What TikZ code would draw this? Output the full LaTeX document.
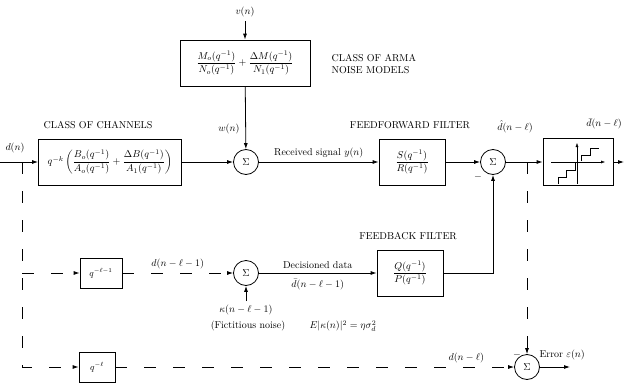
\documentclass[tikz,border=0pt]{standalone}
\usepackage{amsmath,amssymb}
\usepackage{tikz}
\usetikzlibrary{arrows.meta,positioning,calc}

\begin{document}
\begin{tikzpicture}[x=1pt,y=-1pt,
  block/.style={draw, thick, inner sep=2pt},
  sumnode/.style={draw, thick, circle, minimum size=25pt, inner sep=0pt},
  sig/.style={thick, -{Latex[length=6pt,width=4pt]}},
  dsig/.style={sig, dash pattern=on 12pt off 17pt}]
\useasboundingbox (0,0) rectangle (624,391);

% blocks
\node[block, minimum width=130pt, minimum height=46pt] (noise) at (245,63)
  {$\dfrac{M_o(q^{-1})}{N_o(q^{-1})}+\dfrac{\Delta M(q^{-1})}{N_1(q^{-1})}$};
\node[block, minimum width=143pt, minimum height=46pt] (chan) at (110,162)
  {$q^{-k}\left(\dfrac{B_o(q^{-1})}{A_o(q^{-1})}+\dfrac{\Delta B(q^{-1})}{A_1(q^{-1})}\right)$};
\node[block, minimum width=66pt, minimum height=46pt] (ff) at (412,162) {$\dfrac{S(q^{-1})}{R(q^{-1})}$};
\node[block, minimum width=66pt, minimum height=46pt] (fb) at (410,273) {$\dfrac{Q(q^{-1})}{P(q^{-1})}$};
\node[block, minimum width=70pt, minimum height=47pt] (quant) at (578,162) {};
\node[block, minimum width=42pt, minimum height=30pt, font=\small] (del1) at (101,273) {$q^{-\ell-1}$};
\node[block, minimum width=36pt, minimum height=30pt, font=\small] (del2) at (97,367) {$q^{-\ell}$};

% summing points
\node[sumnode] (s1) at (246,162) {$\Sigma$};
\node[sumnode] (s2) at (493,162) {$\Sigma$};
\node[sumnode] (s3) at (246,273) {$\Sigma$};
\node[sumnode] (s4) at (527,367) {$\Sigma$};

\coordinate (in) at (0,162);
\coordinate (br) at (22,162);
\coordinate (br1) at (22,273);
\coordinate (tap) at (527,162);
\coordinate (out) at (624,162);
\coordinate (vin) at (245,21);
\coordinate (kin) at (246,301);
\coordinate (eout) at (570,367);

% quantizer symbol
\begin{scope}[shift={(quant.center)}]
\draw[-{Latex[length=4pt,width=3pt]}] (-27,0) -- (27,0);
\draw[-{Latex[length=4pt,width=3pt]}] (-1,22) -- (-1,-19);
\draw[thick] (-20,22) -- (-20,15) -- (-12,15) -- (-12,8) -- (-3,8) -- (-3,1);
\draw[thick] (3,-1) -- (3,-7) -- (12,-7) -- (12,-14) -- (21,-14);
\end{scope}

% connections
\draw[sig] (in) -- (chan);
\draw[sig] (vin) -- (noise);
\draw[sig] (noise) -- (s1);
\draw[sig] (chan) -- (s1);
\draw[sig] (s1) -- (ff) node[midway, above] {Received signal $y(n)$};
\draw[sig] (ff) -- (s2);
\draw[sig] (s2) -- (quant);
\draw[sig] (quant) -- (out);
\draw[dsig] (br) |- (del2);
\draw[dsig] (br1) -- (del1);
\draw[dsig] (del1) -- (s3) node[midway, above] {$d(n-\ell-1)$};
\draw[sig] (kin) -- (s3);
\draw[sig] (s3) -- (fb) node[midway, above=1pt] {Decisioned data}
  node[midway, below=2pt] {$\bar d(n-\ell-1)$};
\draw[sig] (fb) -| (s2);
\draw[dsig] (tap) -- (s4);
\draw[dsig] (del2) -- (s4) node[pos=0.88, above] {$d(n-\ell)$};
\draw[sig] (s4) -- (eout);

% labels
\node[above] at (vin) {$v(n)$};
\node[left] at (243,129) {$w(n)$};
\node at (15,148) {$d(n)$};
\node at (98,125) {CLASS OF CHANNELS};
\node[anchor=west, align=left] at (328,64) {CLASS OF ARMA\\NOISE MODELS};
\node at (410,125) {FEEDFORWARD FILTER};
\node at (408,236) {FEEDBACK FILTER};
\node at (515,127) {$\hat d(n-\ell)$};
\node at (604,124) {$\bar d(n-\ell)$};
\node at (478,177) {$-$};
\node[below] at (kin) {$\kappa(n-\ell-1)$};
\node at (248,326) {(Fictitious noise)};
\node[anchor=west] at (306,326) {$E|\kappa(n)|^2=\eta\sigma_d^2$};
\node at (517,355) {$-$};
\node[anchor=west] at (536,355) {Error $\varepsilon(n)$};
\end{tikzpicture}
\end{document}
